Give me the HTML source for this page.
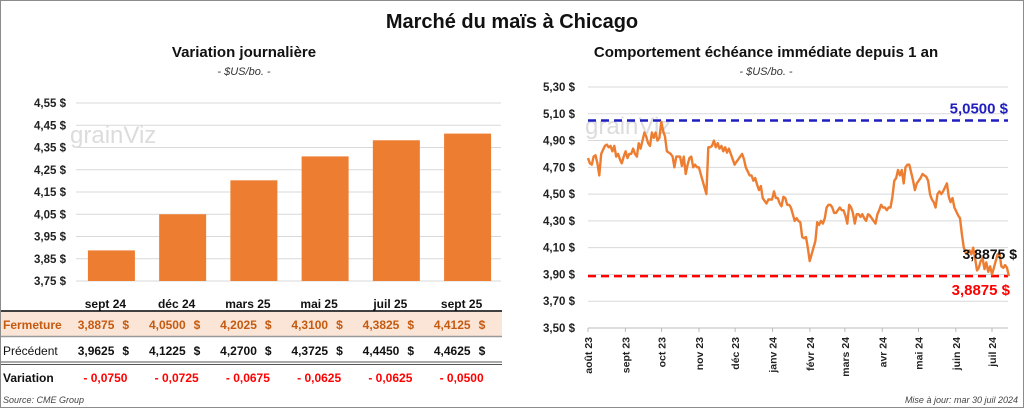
<!DOCTYPE html>
<html><head><meta charset="utf-8"><style>
body{margin:0;background:#fff;}
svg{display:block;font-family:"Liberation Sans",Calibri,sans-serif;}
</style></head><body>
<svg id="s" width="1024" height="408" viewBox="0 0 1024 408">
<rect x="0.5" y="0.5" width="1023" height="407" fill="#fff" stroke="#8c8c8c"/>
<text x="512" y="28" text-anchor="middle" font-size="20" font-weight="bold" fill="#111">Marché du maïs à Chicago</text>
<text x="244" y="57" text-anchor="middle" font-size="15" font-weight="bold" fill="#111">Variation journalière</text>
<text x="244" y="75" text-anchor="middle" font-size="11" font-style="italic" fill="#333">- $US/bo. -</text>
<text x="766" y="57" text-anchor="middle" font-size="15" font-weight="bold" fill="#111">Comportement échéance immédiate depuis 1 an</text>
<text x="766" y="75" text-anchor="middle" font-size="11" font-style="italic" fill="#333">- $US/bo. -</text>
<g id="left"></g><g id="right"></g><g id="tbl"></g>
<text x="3" y="403" font-size="9" font-style="italic" fill="#444">Source: CME Group</text>
<text x="1018" y="403" text-anchor="end" font-size="9" font-style="italic" fill="#444">Mise à jour: mar 30 juil 2024</text>
</svg>
<script>
const categories=["sept 24","déc 24","mars 25","mai 25","juil 25","sept 25"];
const closeVals=[3.8875,4.05,4.2025,4.31,4.3825,4.4125];
const prevVals=[3.9625,4.1225,4.27,4.3725,4.445,4.4625];
const leftTicks=[3.75,3.85,3.95,4.05,4.15,4.25,4.35,4.45,4.55];
const rightTicks=[3.5,3.7,3.9,4.1,4.3,4.5,4.7,4.9,5.1,5.3];
const monthLabels=["août 23","sept 23","oct 23","nov 23","déc 23","janv 24","févr 24","mars 24","avr 24","mai 24","juin 24","juil 24"];
const monthDays=[0,31,61,92,122,153,184,213,244,274,305,335];
const highVal=5.05, lowVal=3.8875, lastVal=3.8875, lastDay=349;
const priceSeries=[4.77,4.73,4.72,4.78,4.79,4.73,4.64,4.80,4.83,4.86,4.87,4.85,4.86,4.82,4.86,4.78,4.80,4.76,4.73,4.78,4.82,4.77,4.80,4.80,4.84,4.80,4.78,4.88,4.84,4.90,4.96,4.93,4.88,4.86,4.96,4.92,4.96,4.90,4.92,5.04,4.97,4.93,4.82,4.81,4.80,4.78,4.70,4.78,4.78,4.78,4.71,4.78,4.65,4.72,4.77,4.78,4.70,4.72,4.70,4.70,4.65,4.60,4.55,4.50,4.85,4.85,4.86,4.90,4.85,4.88,4.84,4.86,4.82,4.85,4.81,4.84,4.80,4.76,4.72,4.74,4.76,4.78,4.80,4.76,4.70,4.67,4.64,4.64,4.60,4.62,4.57,4.53,4.56,4.47,4.45,4.43,4.46,4.46,4.46,4.52,4.47,4.47,4.43,4.41,4.48,4.47,4.42,4.42,4.40,4.35,4.30,4.32,4.30,4.29,4.18,4.17,4.18,4.10,4.00,4.05,4.10,4.15,4.29,4.27,4.30,4.28,4.32,4.40,4.42,4.42,4.40,4.36,4.36,4.38,4.40,4.38,4.38,4.34,4.28,4.42,4.40,4.36,4.28,4.35,4.35,4.33,4.35,4.32,4.30,4.35,4.34,4.32,4.30,4.28,4.35,4.38,4.42,4.40,4.40,4.38,4.40,4.40,4.48,4.60,4.62,4.68,4.64,4.68,4.58,4.70,4.72,4.72,4.66,4.60,4.53,4.58,4.60,4.62,4.65,4.64,4.63,4.60,4.50,4.46,4.44,4.40,4.50,4.52,4.50,4.52,4.55,4.58,4.48,4.44,4.47,4.40,4.37,4.34,4.32,4.20,4.10,4.06,4.06,4.08,4.05,4.10,4.02,3.93,3.95,4.00,4.02,3.94,3.99,3.92,3.96,3.90,3.95,4.00,4.05,4.06,3.96,3.95,3.97,3.95,3.8875];

const NS="http://www.w3.org/2000/svg";
function mk(parent,tag,attrs,text){const e=document.createElementNS(NS,tag);for(const k in attrs)e.setAttribute(k,attrs[k]);if(text!==undefined)e.textContent=text;parent.appendChild(e);return e;}
const fmt2=v=>v.toFixed(2).replace('.',',')+' $';
const fmt4=v=>v.toFixed(4).replace('.',',');

// LEFT bar chart
const L=document.getElementById('left');
const ly=v=>281-(v-3.75)/(4.55-3.75)*178;
const lx0=76,lx1=501,band=(lx1-lx0)/categories.length;
leftTicks.forEach(t=>{
 let g=mk(L,'line',{x1:lx0,x2:lx1,y1:ly(t),y2:ly(t),stroke:'#d9d9d9'});
 
 let tx=mk(L,'text',{x:66,y:ly(t)+4,'text-anchor':'end','font-size':11.5,'font-weight':'bold',fill:'#222'},fmt2(t));
 
});
let wm=mk(L,'text',{x:70,y:143,'font-size':24,fill:'#dcdcdc'},'grainViz');

categories.forEach((c,i)=>{
 const cx=lx0+band*(i+0.5)+ (i*0.4);
 let b=mk(L,'rect',{x:cx-23.5,y:ly(closeVals[i]),width:47,height:281-ly(closeVals[i]),fill:'#ed7d31'});
 
 let t=mk(L,'text',{x:cx-6,y:308,'text-anchor':'middle','font-size':12,'font-weight':'bold',fill:'#111'},c);
 
});
// table
const T=document.getElementById('tbl');
let bg=mk(T,'rect',{x:1,y:312,width:501,height:24,fill:'#fbe5d6'});

[[311,1.5,'#000'],[336.5,1.5,'#999'],[362,1,'#555'],[364.5,1,'#555']].forEach(a=>{
 let l=mk(T,'line',{x1:1,x2:502,y1:a[0],y2:a[0],stroke:a[2],'stroke-width':a[1]});
 
});
const rows=[['Fermeture',closeVals,329,'#c55a11'],['Précédent',prevVals,355,'#111']];
rows.forEach(r=>{
 let h=mk(T,'text',{x:3,y:r[2],'font-size':12,'font-weight':r[0]=='Fermeture'?'bold':'normal',fill:r[3]},r[0]);
 
 r[1].forEach((v,i)=>{
  const cx=lx0+band*(i+0.5)+(i*0.4);
  let t=mk(T,'text',{x:cx+3,y:r[2],'text-anchor':'end','font-size':12,'font-weight':'bold',fill:r[0]=='Fermeture'?'#c55a11':'#111'},fmt4(v));
  
  let d=mk(T,'text',{x:cx+11,y:r[2],'text-anchor':'start','font-size':12,'font-weight':'bold',fill:r[0]=='Fermeture'?'#c55a11':'#111'},'$');
  
 });
});
let vh=mk(T,'text',{x:3,y:382,'font-size':12,'font-weight':'bold',fill:'#111'},'Variation');

closeVals.forEach((v,i)=>{
 const cx=lx0+band*(i+0.5)+(i*0.4);
 let t=mk(T,'text',{x:cx-28,y:382,'font-size':12,'font-weight':'bold',fill:'#ff0000'},'- '+fmt4(Math.abs(v-prevVals[i])));
 
});

// RIGHT line chart
const R=document.getElementById('right');
const ry=v=>328-(v-3.5)/(5.3-3.5)*241;
const rx=d=>588+d*1.206;
rightTicks.forEach(t=>{
 let g=mk(R,'line',{x1:588,x2:1008,y1:ry(t),y2:ry(t),stroke:'#d9d9d9'});
 
 let tx=mk(R,'text',{x:575,y:ry(t)+4,'text-anchor':'end','font-size':11.5,'font-weight':'bold',fill:'#222'},fmt2(t));
 
});
let wm2=mk(R,'text',{x:585,y:134,'font-size':24,fill:'#dcdcdc'},'grainViz');

let ax=mk(R,'line',{x1:588,x2:1008,y1:328,y2:328,stroke:'#bbb'});

monthDays.forEach((d,i)=>{
 let tk=mk(R,'line',{x1:rx(d),x2:rx(d),y1:328,y2:332,stroke:'#bbb'});
 
 let t=mk(R,'text',{transform:`translate(${rx(d)+4},337) rotate(-90)`,'text-anchor':'end','font-size':10.5,'font-weight':'bold',fill:'#222'},monthLabels[i]);
 
});
let hl=mk(R,'line',{x1:588,x2:1008,y1:ry(highVal),y2:ry(highVal),stroke:'#1f1fbf','stroke-width':2.5,'stroke-dasharray':'8,5'});

let ll=mk(R,'line',{x1:588,x2:1008,y1:ry(lowVal),y2:ry(lowVal),stroke:'#ff0000','stroke-width':2.5,'stroke-dasharray':'8,5'});

const n=priceSeries.length;
const pts=priceSeries.map((v,i)=>rx(i*lastDay/(n-1)).toFixed(1)+','+ry(v).toFixed(1)).join(' ');
let pl=mk(R,'polyline',{points:pts,fill:'none',stroke:'#ed7d31','stroke-width':2.4,'stroke-linejoin':'round'});

let hlab=mk(R,'text',{x:1008,y:ry(highVal)-7,'text-anchor':'end','font-size':15,'font-weight':'bold',fill:'#1f1fbf'},fmt4(highVal)+' $');

let llab=mk(R,'text',{x:1010,y:ry(lowVal)+19,'text-anchor':'end','font-size':15,'font-weight':'bold',fill:'#ff0000'},fmt4(lowVal)+' $');

let lastlab=mk(R,'text',{x:1017,y:259,'text-anchor':'end','font-size':14,'font-weight':'bold',fill:'#111'},fmt4(lastVal)+' $');

</script>
</body></html>
